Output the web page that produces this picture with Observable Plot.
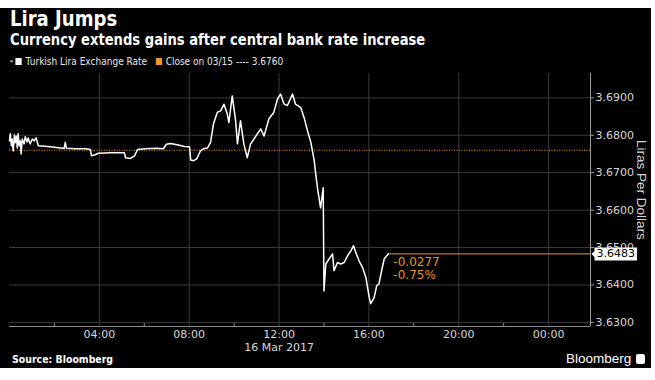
<!DOCTYPE html>
<html>
<head>
<meta charset="utf-8">
<script src="https://cdn.jsdelivr.net/npm/d3@7"></script>
<script src="https://cdn.jsdelivr.net/npm/@observablehq/plot@0.6"></script>
<style>
  html, body { margin: 0; padding: 0; background: #fff; width: 655px; height: 380px; overflow: hidden; }
  #bg { position: absolute; left: 0; top: 8px; width: 651px; height: 360px; background: #000; }
  .t { position: absolute; white-space: nowrap; color: #fff; font-family: "DejaVu Sans", sans-serif; transform-origin: 0 0; }
  #title { left: 10px; top: 9px; font-size: 21px; line-height: 21px; font-weight: bold; transform: scaleX(0.86); }
  #subtitle { left: 10px; top: 33px; font-size: 15px; line-height: 15px; font-weight: bold; transform: scaleX(0.875); }
  #legend { left: 10px; top: 57px; font-size: 10px; line-height: 10px; color: #e8e8e8; transform: scaleX(0.9); }
  #legend .sw { display: inline-block; width: 7px; height: 7px; margin-right: 4px; vertical-align: 0px; }
  #source { left: 12px; top: 355px; font-size: 10px; line-height: 10px; font-weight: bold; transform: scaleX(0.94); }
  #brand { left: 566px; top: 352px; font-size: 13.5px; line-height: 13px; font-family: "Liberation Sans", sans-serif; }
  #brand .logo { display: inline-block; width: 9px; height: 10px; background: #fff; border-radius: 2px; margin-left: 5px; vertical-align: -1px; }
  #ylabel { left: 634px; top: 140px; font-size: 13.5px; line-height: 14px; color: #d8d8d8; font-family: "Liberation Sans", sans-serif; writing-mode: vertical-rl; }
  #chart { position: absolute; left: 0; top: 68px; }
  #chart svg { overflow: visible; }
</style>
</head>
<body>
<div id="bg"></div>
<div id="title" class="t">Lira Jumps</div>
<div id="subtitle" class="t">Currency extends gains after central bank rate increase</div>
<div id="legend" class="t"><span style="font-size:8px;margin-right:3px">ᵠ</span><span class="sw" style="background:#fff"></span>Turkish Lira Exchange Rate&nbsp;&nbsp;&nbsp;<span class="sw" style="background:#f0962a"></span>Close on 03/15 ---- 3.6760</div>
<div id="source" class="t">Source: Bloomberg</div>
<div id="brand" class="t">Bloomberg<span class="logo"></span></div>
<div id="ylabel" class="t">Liras Per Dollars</div>
<div id="chart"></div>
<script>
// ---- data (16 Mar 2017) ----
const times = ["00:00","00:02","00:05","00:07","00:10","00:13","00:15","00:18","00:21","00:23","00:26","00:29","00:31","00:34","00:39","00:42","00:47","00:50","00:55","01:01","01:06","01:11","01:17","01:49","02:16","02:26","02:29","02:32","02:56","03:23","03:36","03:39","03:49","03:57","04:30","04:56","05:07","05:10","05:23","05:34","05:42","06:03","06:30","06:51","06:59","07:10","07:31","07:47","08:01","08:04","08:12","08:20","08:30","08:38","08:49","08:57","09:05","09:15","09:24","09:33","09:42","09:46","09:55","10:04","10:09","10:17","10:26","10:35","10:44","10:53","11:11","11:20","11:33","11:46","11:56","12:04","12:13","12:22","12:36","12:44","12:58","13:07","13:16","13:25","13:34","13:38","13:43","13:51","13:58","14:00","14:05","14:14","14:23","14:27","14:36","14:45","14:54","15:03","15:12","15:19","15:25","15:34","15:43","15:52","16:01","16:05","16:14","16:21","16:27","16:34","16:41","16:52"];
const rates = [3.6785,3.6804,3.6772,3.6790,3.6758,3.6801,3.6780,3.6798,3.6766,3.6804,3.6772,3.6785,3.6750,3.6790,3.6777,3.6796,3.6782,3.6793,3.6777,3.6790,3.6785,3.6793,3.6772,3.6769,3.6766,3.6765,3.6781,3.6765,3.6764,3.6764,3.6762,3.6745,3.6748,3.6752,3.6753,3.6753,3.6753,3.6740,3.6738,3.6745,3.6762,3.6764,3.6765,3.6764,3.6776,3.6778,3.6774,3.6770,3.6769,3.6734,3.6732,3.6737,3.6758,3.6764,3.6766,3.6781,3.6831,3.6861,3.6865,3.6883,3.6856,3.6834,3.6905,3.6839,3.6777,3.6839,3.6777,3.6740,3.6777,3.6790,3.6817,3.6798,3.6844,3.6861,3.6897,3.6910,3.6884,3.6879,3.6910,3.6883,3.6874,3.6847,3.6812,3.6781,3.6732,3.6697,3.6657,3.6606,3.6660,3.6384,3.6456,3.6470,3.6483,3.6438,3.6460,3.6456,3.6460,3.6478,3.6491,3.6505,3.6487,3.6464,3.6447,3.6420,3.6366,3.6350,3.6366,3.6398,3.6403,3.6438,3.6470,3.6483];
const closePrev = 3.6760;
const xTickTimes = ["2017-03-16 04:00","2017-03-16 08:00","2017-03-16 12:00","2017-03-16 16:00","2017-03-16 20:00","2017-03-17 00:00"];
const yTicks = [3.63, 3.64, 3.65, 3.66, 3.67, 3.68, 3.69];
const dateLabel = "16 Mar 2017";

const parse = d3.utcParse("%Y-%m-%d %H:%M");
const fmt = d3.utcFormat("%H:%M");
const data = times.map((t, i) => ({t: parse("2017-03-16 " + t), v: rates[i]}));
const last = data[data.length - 1];
const xStart = parse("2017-03-16 00:00");
const xEnd = parse("2017-03-17 01:52");
const yMin = 3.6289, yMax = 3.6965;
const change = last.v - closePrev;
const pct = change / closePrev * 100;
const xTicks = xTickTimes.map(parse);
const minorTicks = d3.utcHour.every(2).range(xStart, xEnd).filter(d => d.getUTCHours() % 4 !== 0);

const ORANGE = "#e8922a";
const GRID = "#3a3a3a";

const chart = Plot.plot({
  width: 655,
  height: 288,
  marginLeft: 9,
  marginRight: 65,
  marginTop: 5,
  marginBottom: 30,
  style: {background: "transparent", color: "#d8d8d8", fontFamily: "DejaVu Sans, sans-serif", fontSize: "11px", overflow: "visible"},
  x: {type: "utc", domain: [xStart, xEnd]},
  y: {domain: [yMin, yMax]},
  marks: [
    Plot.gridX({ticks: xTicks, stroke: GRID, strokeOpacity: 1, strokeWidth: 1}),
    Plot.gridY({ticks: yTicks, stroke: GRID, strokeOpacity: 1, strokeWidth: 1}),
    Plot.ruleY([closePrev], {stroke: ORANGE, strokeWidth: 1, strokeDasharray: "1,1.5"}),
    Plot.ruleY([last], {y: "v", x1: "t", x2: () => xEnd, stroke: "#c07a1c", strokeWidth: 1.3}),
    Plot.line(data, {x: "t", y: "v", stroke: "#fff", strokeWidth: 1.5}),
    Plot.ruleY([yMin], {stroke: "#8a8a8a", strokeWidth: 1}),
    Plot.ruleX([xEnd], {stroke: "#9a9a9a", strokeWidth: 1}),
    Plot.axisX({ticks: minorTicks, tickSize: -3, tickFormat: () => "", stroke: "#8a8a8a", label: null}),
    Plot.axisX({ticks: xTicks, tickFormat: fmt, tickSize: 0, tickPadding: 4, fontSize: 11, fill: "#d8d8d8", label: null}),
    Plot.text([dateLabel], {x: () => parse("2017-03-16 12:00"), frameAnchor: "bottom", dy: 24, text: d => d, fill: "#d8d8d8", fontSize: 11}),
    Plot.axisY({anchor: "right", ticks: yTicks, tickFormat: d => d.toFixed(4), tickSize: 3, tickPadding: 2, fontSize: 11, fill: "#d8d8d8", stroke: "#9a9a9a", label: null}),
    Plot.text([last], {x: "t", y: "v", dx: 5, dy: 2, textAnchor: "start", lineAnchor: "top", lineHeight: 1.15,
      text: () => change.toFixed(4) + "\n" + pct.toFixed(2) + "%", fill: ORANGE, fontSize: 12}),
    Plot.text([last], {y: "v", frameAnchor: "right", dx: 6, textAnchor: "start", text: d => d.v.toFixed(4), fill: "#000", fontSize: 11})
  ]
});
document.getElementById("chart").appendChild(chart);

// white price box (with pointer) behind the last-value label
d3.select(chart).selectAll("text").filter(function() { return this.textContent === last.v.toFixed(4); }).each(function() {
  const b = this.getBBox();
  const pad = 2;
  const box = document.createElementNS("http://www.w3.org/2000/svg", "path");
  const x0 = b.x - pad, x1 = b.x + b.width + pad, y0 = b.y, y1 = b.y + b.height;
  const ym = (y0 + y1) / 2;
  box.setAttribute("d", `M${x0},${y0}H${x1}V${y1}H${x0}V${ym + 3}L${x0 - 3},${ym}L${x0},${ym - 3}Z`);
  box.setAttribute("fill", "#fff");
  const tr = this.getAttribute("transform");
  if (tr) box.setAttribute("transform", tr);
  this.parentNode.insertBefore(box, this);
});
</script>
</body>
</html>
